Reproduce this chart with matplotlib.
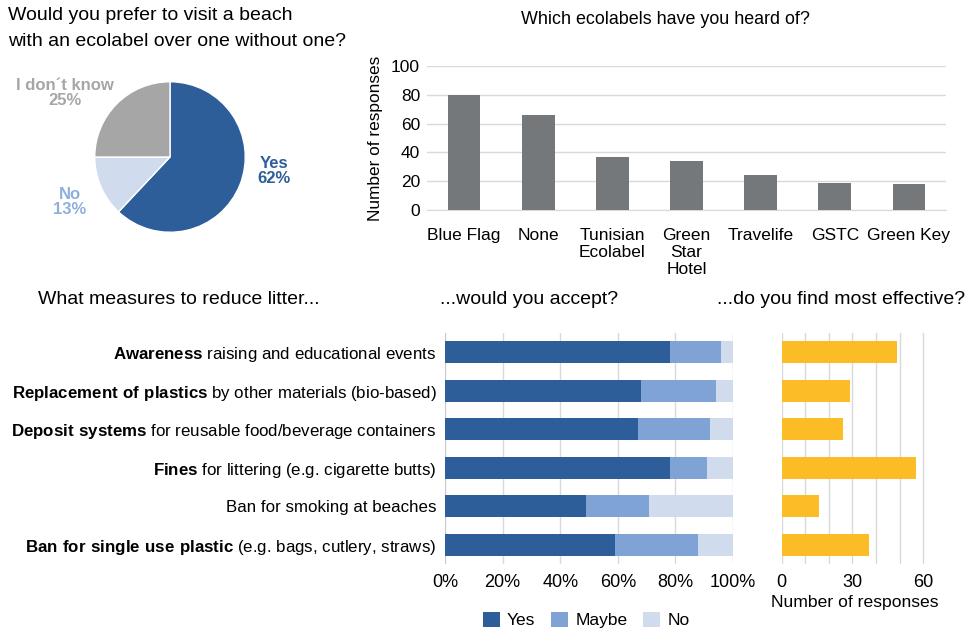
import numpy as np
import matplotlib
matplotlib.use("Agg")
import matplotlib.pyplot as plt

plt.rcParams['font.family'] = ['Liberation Sans', 'DejaVu Sans']
plt.rcParams['mathtext.fontset'] = 'custom'
plt.rcParams['mathtext.rm'] = 'Liberation Sans'
plt.rcParams['mathtext.bf'] = 'Liberation Sans:bold'

# Data
pie_labels = ['Yes', 'No', 'I don´t know']
pie_values = [62, 13, 25]

eco_labels = ['Blue Flag', 'None', 'Tunisian\nEcolabel', 'Green\nStar\nHotel', 'Travelife', 'GSTC', 'Green Key']
eco_values = [80, 66, 37, 34, 24, 19, 18]

measure_bold = ['Awareness', 'Replacement of plastics', 'Deposit systems', 'Fines', '', 'Ban for single use plastic']
measure_rest = ['raising and educational events', 'by other materials (bio-based)',
                'for reusable food/beverage containers', 'for littering (e.g. cigarette butts)',
                'Ban for smoking at beaches', '(e.g. bags, cutlery, straws)']
accept_yes = [78, 68, 67, 78, 49, 59]
accept_maybe = [18, 26, 25, 13, 22, 29]
accept_no = [4, 6, 8, 9, 29, 12]
effective = [49, 29, 26, 57, 16, 37]

# Colours
c_yes = '#2e5e9a'
c_maybe = '#7fa3d4'
c_no = '#d0dcee'
c_grey = '#a6a6a6'
c_bar = '#75787b'
c_gold = '#fbbc26'
c_grid = '#d9d9d9'

W, H = 973, 631
fig = plt.figure(figsize=(W / 100, H / 100), dpi=100)


def rect(l, t, r, b):
    return [l / W, 1 - b / H, (r - l) / W, (b - t) / H]


def ftext(x, y, s, **kw):
    return fig.text(x / W, 1 - y / H, s, **kw)


# Pie chart
ftext(8, 16, 'Would you prefer to visit a beach', fontsize=14, va='center')
ftext(8, 42, 'with an ecolabel over one without one?', fontsize=14, va='center')
ax_pie = fig.add_axes(rect(94, 81, 246, 233))
ax_pie.pie(pie_values, colors=[c_yes, c_no, c_grey], startangle=90, counterclock=False,
           wedgeprops=dict(edgecolor='white', linewidth=1))
ax_pie.set_xlim(-1.01, 1.01)
ax_pie.set_ylim(-1.01, 1.01)
ax_pie.set_aspect('equal')
ftext(274, 171, 'Yes\n62%', color=c_yes, fontsize=12, fontweight='bold', ha='center', va='center', linespacing=1.0)
ftext(70, 202, 'No\n13%', color='#8fb0dc', fontsize=12, fontweight='bold', ha='center', va='center', linespacing=1.0)
ftext(65, 93, 'I don´t know\n25%', color=c_grey, fontsize=12, fontweight='bold', ha='center', va='center', linespacing=1.0)

# Ecolabel bar chart
ftext(665, 20, 'Which ecolabels have you heard of?', fontsize=12.9, ha='center', va='center')
ax_eco = fig.add_axes(rect(427, 66, 946, 210))
x = np.arange(len(eco_labels))
ax_eco.bar(x, eco_values, width=0.44, color=c_bar, zorder=3)
ax_eco.set_xlim(-0.5, len(eco_labels) - 0.5)
ax_eco.set_ylim(0, 100)
ax_eco.set_yticks([0, 20, 40, 60, 80, 100])
ax_eco.set_xticks(x)
ax_eco.set_xticklabels(eco_labels, fontsize=12.5, linespacing=1.15, va='top')
ax_eco.tick_params(axis='y', labelsize=12.5, length=0, pad=5)
ax_eco.tick_params(axis='x', length=0, pad=13)
ax_eco.yaxis.grid(True, color=c_grid, linewidth=1, zorder=0)
for sp in ['top', 'right', 'left']:
    ax_eco.spines[sp].set_visible(False)
ax_eco.spines['bottom'].set_color(c_grid)
ax_eco.set_ylabel('Number of responses', fontsize=12.4, labelpad=6)

# Section titles
ftext(38, 300, 'What measures to reduce litter...', fontsize=14, va='center')
ftext(440, 300, '...would you accept?', fontsize=14, va='center')
ftext(717, 300, '...do you find most effective?', fontsize=14, va='center')

# Stacked acceptance bars
ax_acc = fig.add_axes(rect(445, 333, 733, 564))
y = np.arange(len(accept_yes))
yes = np.array(accept_yes)
maybe = np.array(accept_maybe)
no = np.array(accept_no)
b1 = ax_acc.barh(y, yes, height=0.57, color=c_yes, zorder=3, label='Yes')
b2 = ax_acc.barh(y, maybe, left=yes, height=0.57, color=c_maybe, zorder=3, label='Maybe')
b3 = ax_acc.barh(y, no, left=yes + maybe, height=0.57, color=c_no, zorder=3, label='No')
ax_acc.set_xlim(0, 100)
ax_acc.set_ylim(len(y) - 0.5, -0.5)
ax_acc.set_xticks([0, 20, 40, 60, 80, 100])
ax_acc.set_xticklabels(['0%', '20%', '40%', '60%', '80%', '100%'])
ax_acc.tick_params(axis='x', labelsize=13, length=0, pad=7)
ax_acc.tick_params(axis='y', length=0, pad=6)
labels = []
for bold, rest in zip(measure_bold, measure_rest):
    if bold:
        labels.append(r'$\mathbf{' + bold.replace(' ', r'\ ') + '}$ ' + rest)
    else:
        labels.append(rest)
ax_acc.set_yticks(y)
ax_acc.set_yticklabels(labels, fontsize=12.2)
ax_acc.xaxis.grid(True, color=c_grid, linewidth=1, zorder=0)
for sp in ax_acc.spines.values():
    sp.set_visible(False)
ax_acc.axvline(0, color='#c8c8c8', linewidth=1.2, zorder=2)

fig.legend(handles=[b1, b2, b3], labels=['Yes', 'Maybe', 'No'], loc='center',
           bbox_to_anchor=(586 / W, 1 - 620 / H), ncol=3, frameon=False, fontsize=12.5,
           handlelength=1.0, handleheight=1.0, handletextpad=0.4, columnspacing=0.9)

# Most effective bars
ax_eff = fig.add_axes(rect(781.5, 333, 928, 564))
ax_eff.barh(y, effective, height=0.57, color=c_gold, zorder=3)
ax_eff.set_xlim(0, 62)
ax_eff.set_ylim(len(y) - 0.5, -0.5)
ax_eff.set_xticks([0, 30, 60])
ax_eff.set_xticks(np.arange(0, 61, 10), minor=True)
ax_eff.set_yticks([])
ax_eff.tick_params(axis='x', which='both', labelsize=13, length=0, pad=7)
ax_eff.xaxis.grid(True, which='both', color=c_grid, linewidth=1, zorder=0)
for sp in ax_eff.spines.values():
    sp.set_visible(False)
ax_eff.set_xlabel('Number of responses', fontsize=12.6, labelpad=3)

fig.savefig('out.png', dpi=100)
